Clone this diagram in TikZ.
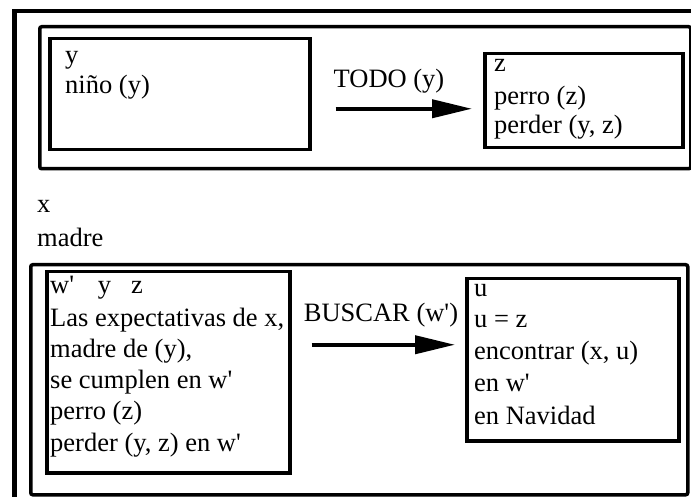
\documentclass[tikz,border=0pt]{standalone}
\usepackage{fontspec}
\setmainfont{Liberation Serif}
\usetikzlibrary{arrows.meta}
\newcommand\apos{\textquotesingle}
\begin{document}
\begin{tikzpicture}[x=1pt,y=-1pt,
  box/.style={draw=black,line width=3.5pt,inner sep=0pt,anchor=north west},
  grp/.style={box,rounded corners=2pt},
  txt/.style={anchor=base west,inner sep=0pt,font=\fontsize{26.5}{31}\selectfont},
  lbl/.style={anchor=base,inner sep=0pt,font=\fontsize{26.5}{31}\selectfont},
  arr/.style={line width=4pt,-{Triangle[length=40pt,width=18pt]}}]
\clip (0,0) rectangle (691,497);
\fill[white] (0,0) rectangle (691,497);
\node[box,line width=4.5pt,minimum width=720pt,minimum height=540pt] (outer) at (12,9) {};
% top group
\node[grp,minimum width=651pt,minimum height=142pt] (A) at (38,25) {};
\node[box,minimum width=260pt,minimum height=111pt] (L1) at (48,37) {};
\node[box,minimum width=198pt,minimum height=94pt] (Z) at (483,52) {};
\node[txt] (t1) at (65,64) {y};
\node[txt] (t2) at (65,94) {niño (y)};
\node[txt] (t3) at (494,72) {z};
\node[txt] (t4) at (494,105) {perro (z)};
\node[txt] (t5) at (494,133.5) {perder (y, z)};
\node[lbl] (todo) at (389,88) {TODO (y)};
\draw[arr,shorten <=24pt,shorten >=11pt] ([yshift=-14.5pt]L1.east) -- ([yshift=-8pt]Z.west);
% middle
\node[txt] (tx) at (37,213) {x};
\node[txt] (tm) at (37,247) {madre};
% bottom group
\node[grp,minimum width=657pt,minimum height=230pt] (B) at (29,263) {};
\node[box,minimum width=243pt,minimum height=201pt] (W) at (45,270) {};
\node[box,minimum width=212pt,minimum height=162pt] (U) at (465,277) {};
\node[txt] (w1) at (50,294) {w\apos\hspace{0.9em}y\hspace{0.75em}z};
\node[txt] (w2) at (50,326.5) {Las expectativas de x,};
\node[txt] (w3) at (50,357.5) {madre de (y),};
\node[txt] (w4) at (50,388.5) {se cumplen en w\apos};
\node[txt] (w5) at (50,419.5) {perro (z)};
\node[txt] (w6) at (50,451) {perder (y, z) en w\apos};
\node[txt] (u1) at (474,296) {u};
\node[txt] (u2) at (474,327.5) {u = z};
\node[txt] (u3) at (474,359.5) {encontrar (x, u)};
\node[txt] (u4) at (474,391.5) {en w\apos};
\node[txt] (u5) at (474,424) {en Navidad};
\node[lbl] (buscar) at (381,321) {BUSCAR (w\apos)};
\draw[arr,shorten <=20pt,shorten >=10pt] ([yshift=27.5pt]W.east) -- ([yshift=15pt]U.west);
\end{tikzpicture}
\end{document}
